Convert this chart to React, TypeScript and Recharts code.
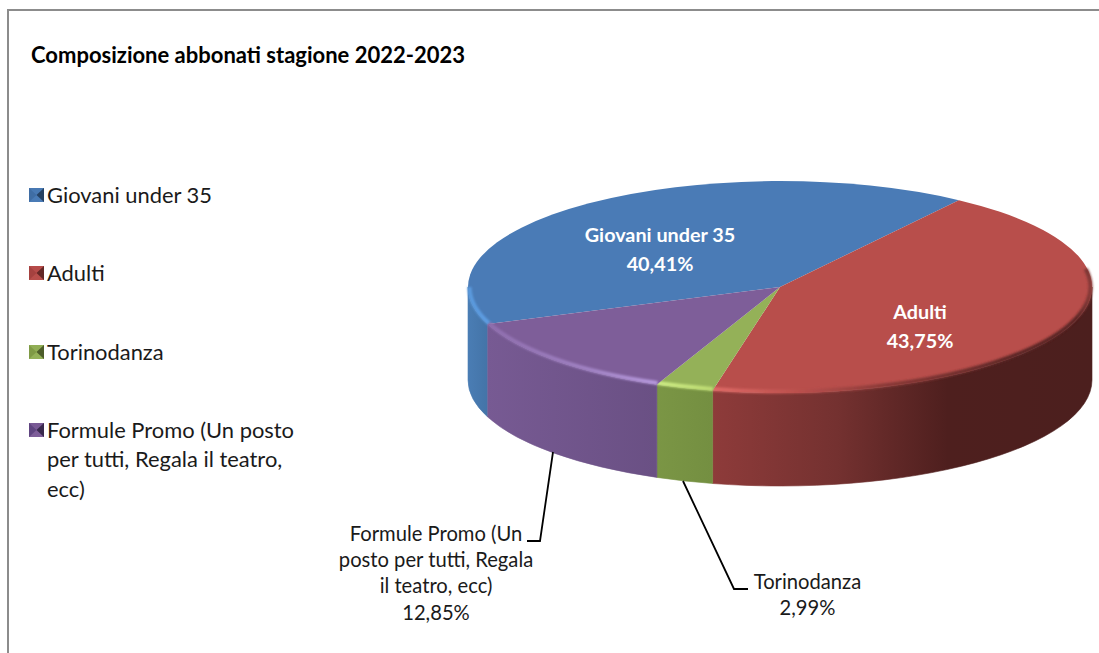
import React from "react";
import { PieChart, Pie, Cell, Legend } from "recharts";

// Chart values.
const NAMES = [
  "Giovani under 35",
  "Adulti",
  "Torinodanza",
  "Formule Promo (Un posto per tutti, Regala il teatro, ecc)",
];
const SHARES = [40.41, 43.75, 2.99, 12.85];
const SHARE_LABELS = ["40,41%", "43,75%", "2,99%", "12,85%"];

const TOP_COLORS = ["#4a7bb6", "#b84e4b", "#94b158", "#7e5e99"];
const ICON_COLORS = ["#3f6da4", "#a5413f", "#7f9a45", "#5f4580"];
const FONT = "Lato, Carlito, sans-serif";

const W = 1099;
const H = 653;
const LEGEND_W = 300; // the legend's width is taken off the plot area, so cx is relative to it
const CX = 780;
const CY = 287;
const RX = 312;
const RY = 106;
const DEPTH = 93;

const rows = NAMES.map((name, i) => ({ name, value: SHARES[i], idx: i }));

// label blocks: lines + where they sit
const LABELS: Record<number, { x: number; y: number; lines: string[]; inside: boolean; leader?: string }> = {
  0: { x: 660, y: 242, lines: ["Giovani under 35"], inside: true },
  1: { x: 920, y: 319, lines: ["Adulti"], inside: true },
  2: {
    x: 807.5,
    y: 589,
    lines: ["Torinodanza"],
    inside: false,
    leader: "683,481 734,589 748,589",
  },
  3: {
    x: 436,
    y: 541,
    lines: ["Formule Promo (Un", "posto per tutti, Regala", "il teatro, ecc)"],
    inside: false,
    leader: "553,452 540,541 527,541",
  },
};

const pt = (a: number, rx: number, ry: number, cx: number, cy: number) => {
  const t = (a * Math.PI) / 180;
  return [cx + rx * Math.cos(t), cy - ry * Math.sin(t)];
};

// flat slice squashed to an ellipse
function arcPath(cx: number, cy: number, rx: number, ry: number, from: number, to: number) {
  const [x1, y1] = pt(from, rx, ry, cx, cy);
  const [x2, y2] = pt(to, rx, ry, cx, cy);
  const large = Math.abs(from - to) > 180 ? 1 : 0;
  return `M${x1} ${y1}A${rx} ${ry} 0 ${large} 1 ${x2} ${y2}`;
}

// parts of a slice that face the viewer (lower half of the ellipse)
function frontRanges(start: number, end: number) {
  const out: [number, number][] = [];
  for (const k of [-1, 0, 1]) {
    const hi = Math.min(start, 360 * k);
    const lo = Math.max(end, 360 * k - 180);
    if (hi > lo) out.push([hi, lo]);
  }
  return out;
}

function TopSlice(props: any) {
  const { cx, cy, outerRadius, startAngle, endAngle, fill, idx } = props;
  const ry = (outerRadius * RY) / RX;
  const hi = Math.max(startAngle, endAngle);
  const lo = Math.min(startAngle, endAngle);
  const bevelRanges = frontRanges(hi, lo);
  // red keeps its soft shadow a bit past the right edge
  if (idx === 1 && bevelRanges[0]) bevelRanges[0][0] = Math.min(hi, 10);
  return (
    <g>
      <path d={`${arcPath(cx, cy, outerRadius, ry, hi, lo)}L${cx} ${cy}Z`} fill={fill} />
      {bevelRanges.map(([a, b], i) => (
        <path
          key={i}
          d={arcPath(cx, cy, outerRadius - 1.5, ry - 1.5, a, b)}
          fill="none"
          stroke={`url(#bevel${idx})`}
          strokeWidth={4}
          filter="url(#soft)"
        />
      ))}
    </g>
  );
}

function WallSlice(props: any) {
  const { cx, cy, outerRadius, startAngle, endAngle, idx } = props;
  const ry = (outerRadius * RY) / RX;
  const hi = Math.max(startAngle, endAngle);
  const lo = Math.min(startAngle, endAngle);
  return (
    <g>
      {frontRanges(hi, lo).map(([a, b], i) => {
        const [xb, yb] = pt(b, outerRadius, ry, cx, cy + DEPTH);
        const [xa, ya] = pt(a, outerRadius, ry, cx, cy + DEPTH);
        const large = a - b > 180 ? 1 : 0;
        const d = `${arcPath(cx, cy, outerRadius, ry, a, b)}L${xb} ${yb}A${outerRadius} ${ry} 0 ${large} 0 ${xa} ${ya}Z`;
        return <path key={i} d={d} fill={`url(#wall${idx})`} stroke={`url(#wall${idx})`} strokeWidth={0.6} />;
      })}
    </g>
  );
}

function SliceLabel(props: any) {
  const idx = props.idx ?? props.payload?.idx ?? props.index;
  const b = LABELS[idx];
  const size = b.inside ? 19.8 : 20.2;
  const lh = b.inside ? 29 : 26.2;
  return (
    <g>
      {b.leader && <polyline points={b.leader} fill="none" stroke="#000" strokeWidth={1.8} />}
      <text
        x={b.x}
        y={b.y}
        textAnchor="middle"
        fontFamily={FONT}
        fontSize={size}
        fontWeight={b.inside ? 700 : 400}
        fill={b.inside ? "#fff" : "#1a1a1a"}
      >
        {[...b.lines, SHARE_LABELS[idx]].map((l, i) => (
          <tspan key={i} x={b.x} dy={i === 0 ? 0 : lh}>
            {l}
          </tspan>
        ))}
      </text>
    </g>
  );
}

function LegendIcon({ idx }: { idx: number }) {
  const c = ICON_COLORS[idx];
  return (
    <svg width={15} height={14} style={{ position: "absolute", left: 0, top: 8 }}>
      <rect width={15} height={14} fill={c} />
      <polygon points="0,0 15,0 7.5,7" fill={TOP_COLORS[idx]} opacity={0.85} />
      <polygon points="0,14 15,14 7.5,7" fill={TOP_COLORS[idx]} />
      <polygon points="15,0 15,14 7.5,7" fill="#000" opacity={0.4} />
    </svg>
  );
}

function LegendBlock() {
  return (
    <div style={{ fontFamily: FONT, fontSize: 21.9, lineHeight: "29.5px", color: "#1a1a1a" }}>
      {NAMES.map((n, i) => (
        <div key={n} style={{ position: "relative", paddingLeft: 18, marginBottom: 48.8, width: 256 }}>
          <LegendIcon idx={i} />
          {n}
        </div>
      ))}
    </div>
  );
}

export default function App() {
  return (
    <div style={{ position: "relative", width: W, height: H, overflow: "hidden", background: "#fff" }}>
      <style>{`body{margin:0}`}</style>
      <div
        style={{
          position: "absolute",
          left: 7,
          top: 9,
          width: W,
          height: H,
          border: "2px solid #8c8c8c",
        }}
      />
      <div
        style={{
          position: "absolute",
          left: 31,
          top: 41,
          fontFamily: FONT,
          fontWeight: 700,
          fontSize: 22,
          color: "#000",
          whiteSpace: "nowrap",
        }}
      >
        Composizione abbonati stagione 2022-2023
      </div>
      <div style={{ position: "absolute", left: 0, top: 0 }}>
        <PieChart width={W} height={H} margin={{ top: 0, right: 0, bottom: 0, left: 0 }}>
          <defs>
            <filter id="soft" filterUnits="userSpaceOnUse" x={0} y={0} width={W} height={H}>
              <feGaussianBlur stdDeviation={1.2} />
            </filter>
            <linearGradient id="wall0" gradientUnits="userSpaceOnUse" x1={468} x2={487} y1={0} y2={0}>
              <stop offset="0" stopColor="#4a7db4" />
              <stop offset="1" stopColor="#4474a8" />
            </linearGradient>
            <linearGradient id="wall1" gradientUnits="userSpaceOnUse" x1={712} x2={1092} y1={0} y2={0}>
              <stop offset="0" stopColor="#8e3b3a" />
              <stop offset="0.33" stopColor="#743130" />
              <stop offset="0.62" stopColor="#4e1f1e" />
              <stop offset="1" stopColor="#4c1f1e" />
            </linearGradient>
            <linearGradient id="wall2" gradientUnits="userSpaceOnUse" x1={655} x2={712} y1={0} y2={0}>
              <stop offset="0" stopColor="#7b9645" />
              <stop offset="1" stopColor="#748f41" />
            </linearGradient>
            <linearGradient id="wall3" gradientUnits="userSpaceOnUse" x1={487} x2={655} y1={0} y2={0}>
              <stop offset="0" stopColor="#775a93" />
              <stop offset="1" stopColor="#6a5084" />
            </linearGradient>
            <linearGradient id="bevel0" gradientUnits="userSpaceOnUse" x1={468} x2={490} y1={0} y2={0}>
              <stop offset="0" stopColor="#5a9ade" />
              <stop offset="1" stopColor="#5f9fe4" />
            </linearGradient>
            <linearGradient id="bevel1" gradientUnits="userSpaceOnUse" x1={712} x2={1092} y1={0} y2={0}>
              <stop offset="0" stopColor="#e06c68" />
              <stop offset="0.2" stopColor="#c05350" />
              <stop offset="0.45" stopColor="#8a3a38" />
              <stop offset="0.8" stopColor="#5a2625" />
              <stop offset="0.96" stopColor="#5a2625" />
              <stop offset="1" stopColor="#8a3c3a" />
            </linearGradient>
            <linearGradient id="bevel2" gradientUnits="userSpaceOnUse" x1={655} x2={712} y1={0} y2={0}>
              <stop offset="0" stopColor="#cfee86" />
              <stop offset="1" stopColor="#bddb72" />
            </linearGradient>
            <linearGradient id="bevel3" gradientUnits="userSpaceOnUse" x1={487} x2={655} y1={0} y2={0}>
              <stop offset="0" stopColor="#8f6eae" />
              <stop offset="0.6" stopColor="#a183c4" />
              <stop offset="1" stopColor="#b79ade" />
            </linearGradient>
          </defs>
          <Pie
            data={rows}
            dataKey="value"
            nameKey="name"
            cx={CX - LEGEND_W}
            cy={CY}
            outerRadius={RX}
            startAngle={200.5}
            endAngle={-159.5}
            stroke="none"
            legendType="none"
            isAnimationActive={false}
            shape={WallSlice}
          >
            {rows.map((r) => (
              <Cell key={r.name} fill={TOP_COLORS[r.idx]} />
            ))}
          </Pie>
          <Pie
            data={rows}
            dataKey="value"
            nameKey="name"
            cx={CX - LEGEND_W}
            cy={CY}
            outerRadius={RX}
            startAngle={200.5}
            endAngle={-159.5}
            stroke="none"
            isAnimationActive={false}
            shape={TopSlice}
            label={SliceLabel}
            labelLine={false}
          >
            {rows.map((r) => (
              <Cell key={r.name} fill={TOP_COLORS[r.idx]} />
            ))}
          </Pie>
          <Legend
            layout="vertical"
            align="left"
            verticalAlign="top"
            wrapperStyle={{ left: 29, top: 180, width: LEGEND_W }}
            content={LegendBlock}
          />
        </PieChart>
      </div>
    </div>
  );
}
